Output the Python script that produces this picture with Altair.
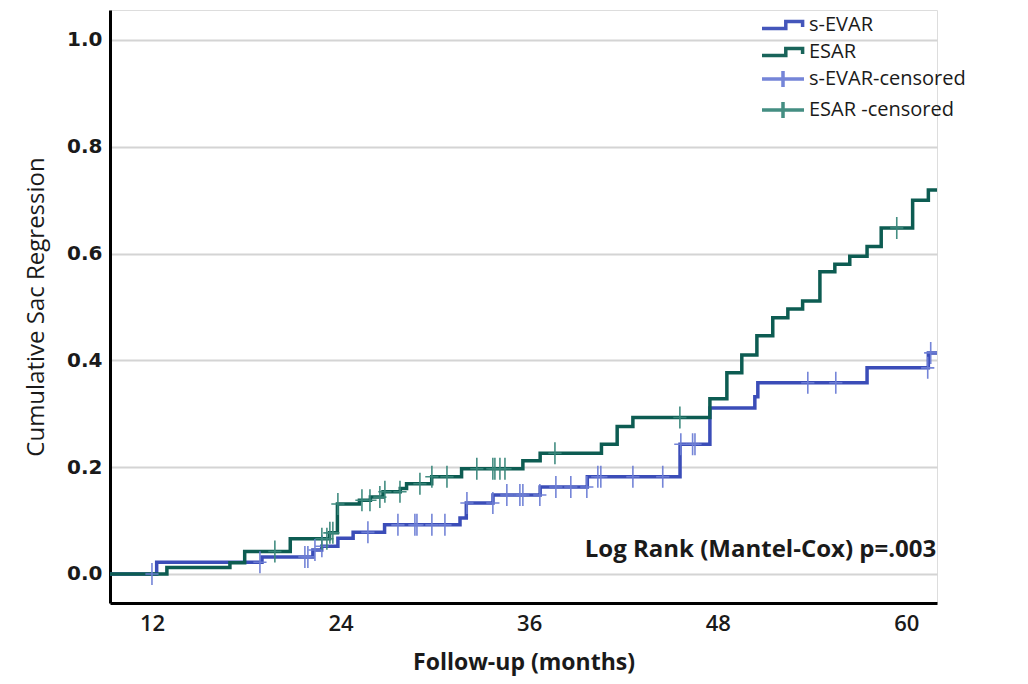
import altair as alt
import pandas as pd
import numpy as np

# ---- data ----
sevar_t = [9.33, 12.3, 19.0, 22.24, 22.8, 23.83, 24.8, 26.8, 31.6, 32.0, 33.7, 36.7, 39.7,
           45.6, 47.5, 50.36, 50.55, 57.5, 61.4, 61.95]
sevar_v = [0.0, 0.022, 0.032, 0.045, 0.052, 0.067, 0.078, 0.092, 0.105, 0.133, 0.148, 0.163, 0.182,
           0.243, 0.311, 0.332, 0.358, 0.386, 0.414, 0.414]
esar_t = [9.33, 12.95, 16.96, 17.9, 20.8, 23.3, 23.8, 25.2, 25.9, 26.7, 27.8, 28.2, 29.8, 31.7,
          35.6, 36.7, 40.6, 41.6, 42.6, 47.5, 48.58, 49.53, 50.49, 51.5, 52.46, 53.4, 54.5,
          55.45, 56.4, 57.5, 58.4, 60.4, 61.4, 61.95]
esar_v = [0.0, 0.012, 0.021, 0.042, 0.066, 0.077, 0.131, 0.138, 0.144, 0.154, 0.160, 0.169, 0.182, 0.197,
          0.212, 0.226, 0.243, 0.276, 0.293, 0.328, 0.377, 0.410, 0.446, 0.480, 0.496, 0.511, 0.566,
          0.580, 0.595, 0.613, 0.648, 0.700, 0.719, 0.719]
sevar_cens = [12.0, 18.87, 21.73, 21.92, 22.37, 22.81, 25.74, 27.65, 28.73, 28.86, 29.81, 30.64,
              32.04, 33.69, 34.58, 35.41, 35.6, 36.68, 37.7, 38.65, 39.67, 40.37, 40.56, 42.6,
              44.5, 45.65, 46.4, 46.55, 53.73, 55.51, 61.36, 61.55]
esar_cens = [19.82, 22.81, 23.13, 23.32, 23.51, 23.83, 25.36, 25.87, 26.5, 26.82, 27.78, 29.05,
             29.81, 30.77, 32.67, 33.69, 33.82, 34.14, 34.46, 37.64, 45.59, 59.39]
series_names = ["s-EVAR", "ESAR", "s-EVAR-censored", "ESAR -censored"]
series_colors = ["#3b4db8", "#0d5c52", "#6e7fd6", "#3a887c"]
x_ticks = [12, 24, 36, 48, 60]
y_ticks = [0.0, 0.2, 0.4, 0.6, 0.8, 1.0]
annotation = "Log Rank (Mantel-Cox) p=.003"

# ---- tables ----
lines = pd.concat([
    pd.DataFrame({"t": sevar_t, "v": sevar_v, "s": "s-EVAR", "c": series_colors[0], "o": 0}),
    pd.DataFrame({"t": esar_t, "v": esar_v, "s": "ESAR", "c": series_colors[1], "o": 1}),
])

def step_at(ts, vs, c):
    i = np.searchsorted(np.array(ts), np.array(c), side="right") - 1
    return np.array(vs)[i]

cens = pd.concat([
    pd.DataFrame({"t": sevar_cens, "v": step_at(sevar_t, sevar_v, sevar_cens), "c": series_colors[2]}),
    pd.DataFrame({"t": esar_cens, "v": step_at(esar_t, esar_v, esar_cens), "c": series_colors[3]}),
])

legend_df = pd.DataFrame({"s": series_names, "t": [0.0] * 4, "v": [0.0] * 4})
ann_df = pd.DataFrame({"t": [61.9], "v": [0.045], "label": [annotation]})

step_path = "M-1.5,0.25H0.2V-0.25H1.4V0.15"
leg_cross = "M-1.5,0H1.5M0,-0.57V0.57"
plot_cross = "M-0.6,0H0.6M0,-1V1"

xs = alt.Scale(domain=[9.33, 61.95], nice=False, zero=False)
ys = alt.Scale(domain=[-0.0543, 1.056], nice=False, zero=False)

xaxis = alt.Axis(values=x_ticks, grid=False, ticks=False, domainColor="black", domainWidth=3,
                 labelFont="Open Sans", labelFontWeight=600, labelFontSize=22, labelColor="#1a1a1a",
                 labelPadding=10, title="Follow-up (months)", titleFont="Open Sans",
                 titleFontWeight="bold", titleFontSize=23, titleColor="#1a1a1a", titlePadding=17)
yaxis = alt.Axis(values=y_ticks, format=".1f", grid=True, gridColor="#d4d4d4", gridWidth=2,
                 ticks=False, domainColor="black", domainWidth=3,
                 labelFont="DejaVu Sans", labelFontWeight="bold", labelFontSize=20, labelColor="#1a1a1a",
                 labelPadding=8, title="Cumulative Sac Regression", titleFont="Open Sans",
                 titleFontWeight=500, titleFontSize=24, titleColor="#1a1a1a", titlePadding=18)

line_layer = alt.Chart(lines).mark_line(interpolate="step-after", strokeWidth=3.5, clip=True).encode(
    x=alt.X("t:Q", scale=xs, axis=xaxis),
    y=alt.Y("v:Q", scale=ys, axis=yaxis),
    color=alt.Color("c:N", scale=None),
    detail="s:N",
    order="o:Q",
)

cens_layer = alt.Chart(cens).mark_point(shape=plot_cross, size=484, filled=False, strokeWidth=1.6,
                                         opacity=0.95, clip=True).encode(
    x=alt.X("t:Q", scale=xs),
    y=alt.Y("v:Q", scale=ys),
    color=alt.Color("c:N", scale=None),
)

def leg():
    return alt.Legend(title=None, orient="none", legendX=657, legendY=-1,
                      symbolSize=784, rowPadding=0, labelOffset=10, symbolOpacity=1,
                      labelFont="Open Sans", labelFontSize=20, labelColor="#1a1a1a",
                      labelLimit=300)

legend_layer = alt.Chart(legend_df).mark_point(filled=False, opacity=1, clip=True).encode(
    x=alt.X("t:Q", scale=xs),
    y=alt.Y("v:Q", scale=ys),
    color=alt.Color("s:N", scale=alt.Scale(domain=series_names, range=series_colors), legend=leg()),
    shape=alt.Shape("s:N", scale=alt.Scale(domain=series_names,
                                           range=[step_path, step_path, leg_cross, leg_cross]),
                    legend=leg()),
    strokeWidth=alt.StrokeWidth("s:N", scale=alt.Scale(domain=series_names, range=[3.5, 3.5, 1.6, 1.6]),
                                legend=leg()),
)

ann_layer = alt.Chart(ann_df).mark_text(align="right", baseline="middle", font="Open Sans",
                                        fontWeight="bold", fontSize=24, color="#1a1a1a").encode(
    x=alt.X("t:Q", scale=xs),
    y=alt.Y("v:Q", scale=ys),
    text="label:N",
)

chart = alt.layer(line_layer, cens_layer, legend_layer, ann_layer).properties(
    width=827, height=593, autosize="none",
    padding={"left": 102, "top": 2, "right": 83, "bottom": 73},
).configure_view(stroke=None).configure(background="white")

chart.save("out.html", embed_options={"renderer": "svg", "actions": False})
